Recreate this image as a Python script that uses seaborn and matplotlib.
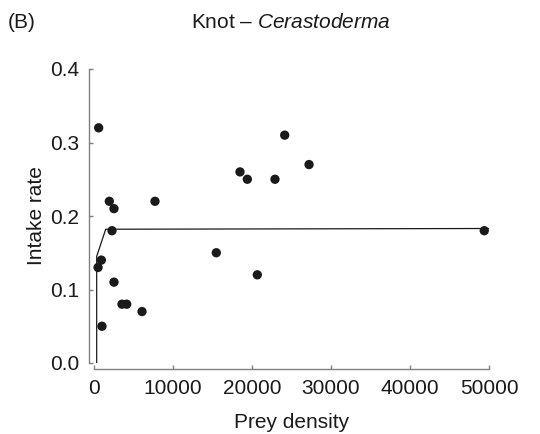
import matplotlib
matplotlib.use("Agg")
import matplotlib.pyplot as plt
import seaborn as sns
import pandas as pd

prey_density = [590, 930, 510, 1010, 1940, 2280, 2530, 2530, 3540, 4140,
                6080, 7720, 15480, 18480, 19410, 20670, 22910, 24140, 27220, 49400]
intake_rate = [0.32, 0.14, 0.13, 0.05, 0.22, 0.18, 0.21, 0.11, 0.08, 0.08,
               0.07, 0.22, 0.15, 0.26, 0.25, 0.12, 0.25, 0.31, 0.27, 0.18]

# Fitted functional response curve
curve_density = [340, 340, 1480, 50000]
curve_intake = [0.0, 0.145, 0.182, 0.183]

x_ticks = [0, 10000, 20000, 30000, 40000, 50000]
y_ticks = [0.0, 0.1, 0.2, 0.3, 0.4]

sns.set_style("ticks")
plt.rcParams['font.family'] = ['Liberation Sans', 'DejaVu Sans']
plt.rcParams['mathtext.fontset'] = 'custom'
plt.rcParams['mathtext.rm'] = 'Liberation Sans'
plt.rcParams['mathtext.it'] = 'Liberation Sans:italic'

df = pd.DataFrame({"density": prey_density, "intake": intake_rate})
curve = pd.DataFrame({"density": curve_density, "intake": curve_intake})

fig = plt.figure(figsize=(5.4, 4.34), dpi=100)
ax = fig.add_axes([94 / 540, 1 - 363 / 434, 395 / 540, 294 / 434])

ax.plot(curve["density"], curve["intake"], color="#1a1a1a", lw=0.9)
sns.scatterplot(data=df, x="density", y="intake", ax=ax, color="#1a1a1a",
                s=45, edgecolor="none", zorder=3, clip_on=False)

ax.set_xlim(0, 50000)
ax.set_ylim(0, 0.4)
ax.set_xticks(x_ticks)
ax.set_yticks(y_ticks)
ax.set_yticklabels([f"{v:.1f}" for v in y_ticks])

sns.despine(ax=ax)
ax.spines["left"].set_position(("outward", 3.6))
ax.spines["bottom"].set_position(("outward", 4.3))
for s in ["left", "bottom"]:
    ax.spines[s].set_color("#808080")
    ax.spines[s].set_linewidth(1.0)
ax.tick_params(direction="in", length=3, width=1.0, color="#808080",
               labelsize=15, labelcolor="#1a1a1a", pad=7)

ax.set_xlabel("Prey density", fontsize=15, color="#1a1a1a", labelpad=11)
ax.set_ylabel("Intake rate", fontsize=15, color="#1a1a1a", labelpad=3)

fig.text(291 / 540, 1 - 22 / 434, r"Knot – $\it{Cerastoderma}$", ha="center",
         va="center", fontsize=15, color="#1a1a1a")
fig.text(8 / 540, 1 - 22 / 434, "(B)", ha="left", va="center", fontsize=15,
         color="#1a1a1a")

fig.savefig("out.png", dpi=100)
